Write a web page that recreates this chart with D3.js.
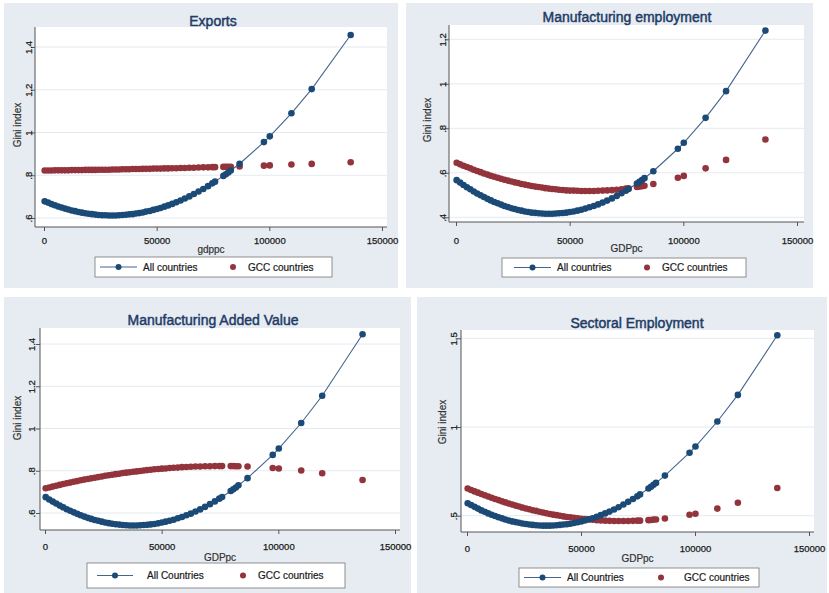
<!DOCTYPE html>
<html>
<head>
<meta charset="utf-8">
<title>Gini index vs GDP per capita</title>
<script src="https://cdn.jsdelivr.net/npm/d3@7"></script>
<style>
  body { margin: 0; background: #ffffff; }
  svg { display: block; font-family: "Liberation Sans", Arial, sans-serif; }
</style>
</head>
<body>
<svg id="chart" width="829" height="593"></svg>
<script>
// GDP per capita of the observations (same for the four panels)
var gdppc = [300, 1800, 3300, 4800, 6300, 7800, 9300, 10800, 12300, 13800, 15300, 16800, 18300, 19800,
  21300, 22800, 24300, 25800, 27300, 28800, 30300, 31800, 33300, 34800, 36300, 37800, 39300, 40800,
  42300, 43800, 45300, 46900, 48500, 50100, 51700, 53400, 55100, 56900, 58700, 60600, 62500, 64500,
  66500, 68600, 70700, 72800, 74700, 75900, 79600, 80700, 81800, 82900, 86800, 97600, 100200,
  109800, 118800, 136100];

// Exports
var exportsAll = [0.678, 0.672, 0.665, 0.660, 0.654, 0.649, 0.644, 0.640, 0.635, 0.632, 0.628, 0.625, 0.622, 0.620,
  0.618, 0.616, 0.614, 0.613, 0.613, 0.612, 0.612, 0.612, 0.613, 0.614, 0.615, 0.617, 0.618, 0.621,
  0.623, 0.626, 0.630, 0.633, 0.638, 0.642, 0.647, 0.653, 0.659, 0.666, 0.674, 0.682, 0.691, 0.701,
  0.712, 0.724, 0.736, 0.749, 0.762, 0.770, 0.797, 0.805, 0.813, 0.822, 0.854, 0.955, 0.982,
  1.090, 1.203, 1.456];
var exportsGCC = [0.822, 0.822, 0.822, 0.823, 0.823, 0.823, 0.823, 0.823, 0.824, 0.824, 0.824, 0.824, 0.825, 0.825,
  0.825, 0.825, 0.826, 0.826, 0.826, 0.826, 0.827, 0.827, 0.827, 0.828, 0.828, 0.828, 0.829, 0.829,
  0.829, 0.830, 0.830, 0.830, 0.831, 0.831, 0.831, 0.832, 0.832, 0.833, 0.833, 0.834, 0.834, 0.835,
  0.835, 0.836, 0.837, 0.837, 0.838, 0.838, 0.839, 0.839, 0.840, 0.840, 0.841, 0.845, 0.846,
  0.850, 0.853, 0.861];

// Manufacturing employment
var mfgEmpAll = [0.567, 0.556, 0.545, 0.535, 0.526, 0.516, 0.507, 0.499, 0.491, 0.483, 0.476, 0.469, 0.463, 0.457,
  0.451, 0.446, 0.441, 0.437, 0.433, 0.430, 0.426, 0.424, 0.421, 0.420, 0.418, 0.417, 0.416, 0.416,
  0.416, 0.417, 0.418, 0.419, 0.421, 0.424, 0.426, 0.430, 0.434, 0.439, 0.445, 0.451, 0.458, 0.466,
  0.475, 0.485, 0.496, 0.508, 0.519, 0.527, 0.552, 0.559, 0.567, 0.576, 0.607, 0.708, 0.735,
  0.847, 0.967, 1.239];
var mfgEmpGCC = [0.645, 0.638, 0.632, 0.626, 0.620, 0.614, 0.608, 0.603, 0.597, 0.592, 0.587, 0.582, 0.578, 0.573,
  0.569, 0.565, 0.561, 0.557, 0.554, 0.550, 0.547, 0.544, 0.541, 0.538, 0.536, 0.534, 0.531, 0.529,
  0.527, 0.526, 0.524, 0.523, 0.521, 0.520, 0.520, 0.519, 0.518, 0.518, 0.518, 0.518, 0.519, 0.520,
  0.521, 0.522, 0.524, 0.526, 0.529, 0.530, 0.536, 0.538, 0.540, 0.542, 0.550, 0.578, 0.586,
  0.620, 0.658, 0.750];

// Manufacturing added value
var mfgAddAll = [0.675, 0.664, 0.654, 0.645, 0.635, 0.627, 0.618, 0.611, 0.603, 0.596, 0.589, 0.583, 0.577, 0.572,
  0.567, 0.563, 0.559, 0.555, 0.552, 0.549, 0.547, 0.545, 0.543, 0.542, 0.541, 0.541, 0.541, 0.542,
  0.543, 0.544, 0.546, 0.548, 0.551, 0.555, 0.559, 0.563, 0.568, 0.575, 0.581, 0.589, 0.597, 0.607,
  0.617, 0.629, 0.642, 0.655, 0.668, 0.676, 0.704, 0.712, 0.721, 0.731, 0.765, 0.875, 0.905,
  1.026, 1.155, 1.446];
var mfgAddGCC = [0.717, 0.721, 0.725, 0.729, 0.733, 0.737, 0.741, 0.744, 0.748, 0.751, 0.755, 0.758, 0.761, 0.764,
  0.767, 0.770, 0.773, 0.776, 0.779, 0.781, 0.784, 0.786, 0.789, 0.791, 0.793, 0.795, 0.797, 0.799,
  0.801, 0.803, 0.805, 0.807, 0.808, 0.810, 0.811, 0.813, 0.814, 0.815, 0.817, 0.818, 0.819, 0.820,
  0.820, 0.821, 0.821, 0.822, 0.822, 0.822, 0.822, 0.822, 0.821, 0.821, 0.820, 0.813, 0.811,
  0.801, 0.788, 0.756];

// Sectoral employment
var sectEmpAll = [0.570, 0.560, 0.550, 0.540, 0.530, 0.522, 0.513, 0.505, 0.498, 0.491, 0.485, 0.479, 0.473, 0.468,
  0.464, 0.460, 0.456, 0.453, 0.450, 0.448, 0.446, 0.445, 0.444, 0.444, 0.444, 0.445, 0.446, 0.448,
  0.450, 0.452, 0.455, 0.459, 0.463, 0.468, 0.473, 0.480, 0.486, 0.494, 0.503, 0.513, 0.523, 0.535,
  0.548, 0.563, 0.578, 0.594, 0.609, 0.620, 0.653, 0.663, 0.674, 0.685, 0.726, 0.855, 0.890,
  1.031, 1.181, 1.517];
var sectEmpGCC = [0.653, 0.645, 0.637, 0.630, 0.622, 0.615, 0.608, 0.601, 0.594, 0.588, 0.581, 0.575, 0.569, 0.563,
  0.557, 0.552, 0.546, 0.541, 0.536, 0.531, 0.527, 0.522, 0.518, 0.514, 0.510, 0.506, 0.503, 0.500,
  0.496, 0.493, 0.491, 0.488, 0.485, 0.483, 0.481, 0.479, 0.477, 0.475, 0.473, 0.472, 0.471, 0.470,
  0.470, 0.470, 0.470, 0.471, 0.472, 0.472, 0.475, 0.476, 0.478, 0.479, 0.484, 0.505, 0.511,
  0.540, 0.573, 0.656];

var titles = ["Exports", "Manufacturing employment", "Manufacturing Added Value", "Sectoral Employment"];
var xTitles = ["gdppc", "GDPpc", "GDPpc", "GDPpc"];
var allLabels = ["All countries", "All countries", "All Countries", "All Countries"];
var gccLabel = "GCC countries";
var xTicks = [0, 50000, 100000, 150000];
var yTicks = [[0.6, 0.8, 1, 1.2, 1.4], [0.4, 0.6, 0.8, 1, 1.2], [0.6, 0.8, 1, 1.2, 1.4], [0.5, 1, 1.5]];
var allSeries = [exportsAll, mfgEmpAll, mfgAddAll, sectEmpAll];
var gccSeries = [exportsGCC, mfgEmpGCC, mfgAddGCC, sectEmpGCC];

// layout of each panel (pixels)
var panels = [
  { outer: [4, 3, 398, 288], plot: [35, 27, 387, 227], x0: 44, x1: 382, y0: 218, y1: 47,
    title: [213, 26], ytitle: [17, 125], ylab: 29, xlab: 241, xtitle: 253,
    legend: [95, 257, 332, 277], lg: [5, 42, 48, 138, 153] },
  { outer: [406, 3, 813, 288], plot: [449, 25, 804, 222], x0: 456, x1: 797, y0: 217.3, y1: 39.3,
    title: [627, 22], ytitle: [427, 120], ylab: 443, xlab: 241, xtitle: 252,
    legend: [502, 258, 746, 277], lg: [12, 49, 55, 145, 160] },
  { outer: [4, 297, 411, 593], plot: [40, 328, 400, 530], x0: 45, x1: 395, y0: 513, y1: 344,
    title: [213, 325], ytitle: [17, 418], ylab: 32, xlab: 547, xtitle: 561,
    legend: [87, 563, 345, 588], lg: [10, 46, 60, 156, 171] },
  { outer: [417, 297, 827, 593], plot: [461, 330, 814, 532], x0: 467, x1: 809, y0: 515.7, y1: 338.3,
    title: [637, 328], ytitle: [442, 422], ylab: 454, xlab: 549, xtitle: 562,
    legend: [519, 568, 759, 587], lg: [5, 42, 48, 142, 165] }
];

var navy = "#1b4a77", maroon = "#93333b", lineCol = "#46648c";
var svg = d3.select("#chart");

function fmt(v) {
  return String(v).replace(/^0\./, ".");
}

panels.forEach(function (p, i) {
  var g = svg.append("g");
  var yt = yTicks[i];

  var x = d3.scaleLinear().domain([0, 150000]).range([p.x0, p.x1]);
  var y = d3.scaleLinear().domain([yt[0], yt[yt.length - 1]]).range([p.y0, p.y1]);

  // outer graph region
  g.append("rect")
    .attr("x", p.outer[0]).attr("y", p.outer[1])
    .attr("width", p.outer[2] - p.outer[0]).attr("height", p.outer[3] - p.outer[1])
    .attr("fill", "#e6ecf1");

  // plot region
  g.append("rect")
    .attr("x", p.plot[0]).attr("y", p.plot[1])
    .attr("width", p.plot[2] - p.plot[0]).attr("height", p.plot[3] - p.plot[1])
    .attr("fill", "#ffffff");

  // grid lines
  g.selectAll(".grid").data(yt).enter().append("line")
    .attr("x1", p.plot[0]).attr("x2", p.plot[2])
    .attr("y1", function (d) { return y(d); }).attr("y2", function (d) { return y(d); })
    .attr("stroke", "#e4eaef").attr("stroke-width", 1);

  // y axis
  var yAxis = d3.axisLeft(y).tickValues(yt).tickSize(4).tickFormat(fmt);
  var ya = g.append("g").attr("transform", "translate(" + p.plot[0] + ",0)").call(yAxis);
  ya.select(".domain").attr("stroke", "#555").attr("d", "M0," + p.plot[1] + "V" + p.plot[3]);
  ya.selectAll(".tick line").attr("stroke", "#555");
  ya.selectAll(".tick text")
    .attr("x", 0).attr("y", 0).attr("dy", "0.35em")
    .attr("text-anchor", "middle")
    .attr("transform", "translate(" + (p.ylab - p.plot[0]) + ",0) rotate(-90)")
    .attr("font-size", 9.5).attr("fill", "#1a1a1a")
    .attr("stroke", "#1a1a1a").attr("stroke-width", 0.25);

  // x axis
  var xAxis = d3.axisBottom(x).tickValues(xTicks).tickSize(4).tickFormat(d3.format("d"));
  var xa = g.append("g").attr("transform", "translate(0," + p.plot[3] + ")").call(xAxis);
  xa.select(".domain").attr("stroke", "#555").attr("d", "M" + p.plot[0] + ",0H" + p.plot[2]);
  xa.selectAll(".tick line").attr("stroke", "#555");
  xa.selectAll(".tick text").attr("y", p.xlab - p.plot[3]).attr("dy", "0.35em")
    .attr("font-size", 9.5).attr("fill", "#1a1a1a")
    .attr("stroke", "#1a1a1a").attr("stroke-width", 0.25);

  // titles
  g.append("text").attr("x", p.title[0]).attr("y", p.title[1])
    .attr("text-anchor", "middle").attr("font-size", 14).attr("fill", "#223a66")
    .attr("stroke", "#223a66").attr("stroke-width", 0.45)
    .text(titles[i]);
  g.append("text").attr("x", (p.plot[0] + p.plot[2]) / 2).attr("y", p.xtitle)
    .attr("text-anchor", "middle").attr("font-size", 10).attr("fill", "#333")
    .attr("stroke", "#333").attr("stroke-width", 0.2)
    .text(xTitles[i]);
  g.append("text")
    .attr("transform", "translate(" + p.ytitle[0] + "," + p.ytitle[1] + ") rotate(-90)")
    .attr("dy", "0.35em").attr("text-anchor", "middle").attr("font-size", 10).attr("fill", "#333")
    .attr("stroke", "#333").attr("stroke-width", 0.2)
    .text("Gini index");

  var allPts = gdppc.map(function (d, k) { return [d, allSeries[i][k]]; });
  var gccPts = gdppc.map(function (d, k) { return [d, gccSeries[i][k]]; });

  // GCC markers
  g.selectAll(".gcc").data(gccPts).enter().append("circle")
    .attr("cx", function (d) { return x(d[0]); })
    .attr("cy", function (d) { return y(d[1]); })
    .attr("r", 3.3).attr("fill", maroon);

  // All countries connected line + markers
  g.append("path").datum(allPts)
    .attr("fill", "none").attr("stroke", lineCol).attr("stroke-width", 1.1)
    .attr("d", d3.line().x(function (d) { return x(d[0]); }).y(function (d) { return y(d[1]); }));
  g.selectAll(".all").data(allPts).enter().append("circle")
    .attr("cx", function (d) { return x(d[0]); })
    .attr("cy", function (d) { return y(d[1]); })
    .attr("r", 3.3).attr("fill", navy);

  // legend
  var L = p.legend, cy = (L[1] + L[3]) / 2;
  g.append("rect").attr("x", L[0]).attr("y", L[1])
    .attr("width", L[2] - L[0]).attr("height", L[3] - L[1])
    .attr("fill", "#ffffff").attr("stroke", "#777").attr("stroke-width", 0.8);
  g.append("line").attr("x1", L[0] + p.lg[0]).attr("x2", L[0] + p.lg[1])
    .attr("y1", cy).attr("y2", cy).attr("stroke", lineCol).attr("stroke-width", 1.1);
  g.append("circle").attr("cx", L[0] + (p.lg[0] + p.lg[1]) / 2).attr("cy", cy)
    .attr("r", 3).attr("fill", navy);
  g.append("text").attr("x", L[0] + p.lg[2]).attr("y", cy).attr("dy", "0.35em")
    .attr("font-size", 10).attr("fill", "#1a1a1a")
    .attr("stroke", "#1a1a1a").attr("stroke-width", 0.2).text(allLabels[i]);
  g.append("circle").attr("cx", L[0] + p.lg[3]).attr("cy", cy)
    .attr("r", 3).attr("fill", maroon);
  g.append("text").attr("x", L[0] + p.lg[4]).attr("y", cy).attr("dy", "0.35em")
    .attr("font-size", 10).attr("fill", "#1a1a1a")
    .attr("stroke", "#1a1a1a").attr("stroke-width", 0.2).text(gccLabel);
});
</script>
</body>
</html>
